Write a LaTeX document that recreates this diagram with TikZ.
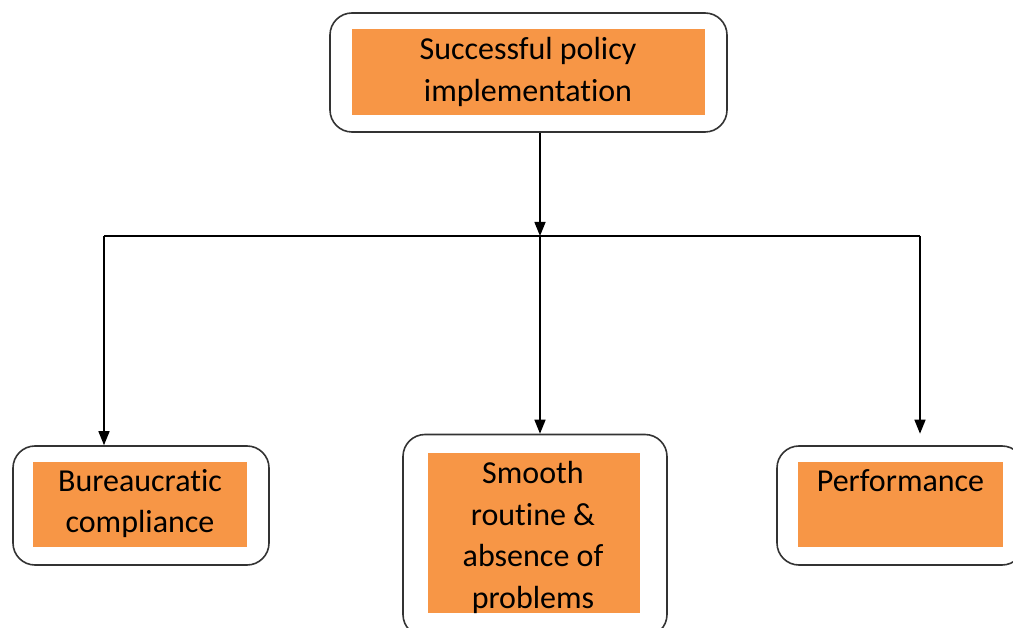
\documentclass[tikz,border=0pt]{standalone}
\usepackage{fontspec}
\setmainfont{Carlito}[Ligatures=NoCommon]
\usetikzlibrary{arrows.meta}
\definecolor{boxorange}{HTML}{F79646}

\begin{document}
\begin{tikzpicture}[x=1pt,y=-1pt,
						outer box/.style={
						draw=black!80,line width=1.6pt,rounded corners=22pt,inner sep=0pt},
						inner box/.style={fill=boxorange,inner sep=0pt},
						box text/.style={anchor=base,align=flush center,inner sep=0pt,
						font=\fontsize{32}{42}\selectfont},
						arr/.style={line width=1.5pt,-{Triangle[length=14pt,width=11pt]}}]

		\useasboundingbox (0,0) rectangle (1013,628);

		% boxes
		\node [outer box,minimum width=397pt,minimum height=119pt] (top) at (528.5,72.5) {};
		\node [inner box,minimum width=353pt,minimum height=86pt] (topin) at (528.5,72) {};
		\node [box text,text width=353pt] (toptext) at (528,59.5) {Successful policy\\implementation};

		\node [outer box,minimum width=256pt,minimum height=119pt] (bur) at (141,505.5) {};
		\node [inner box,minimum width=214pt,minimum height=85pt] (burin) at (140,504.5) {};
		\node [box text,text width=214pt] (burtext) at (140,491) {Bureaucratic\\compliance};

		\node [outer box,minimum width=264pt,minimum height=202pt] (smooth) at (535,535.5) {};
		\node [inner box,minimum width=212pt,minimum height=160pt] (smoothin) at (534,533) {};
		\begin{scope}
			\clip (smoothin.north west) rectangle (smoothin.south east);
			\node [box text,text width=212pt] (smoothtext) at (533,483) {Smooth\\routine \&\\absence of\\problems};
		\end{scope}

		\node [outer box,minimum width=247pt,minimum height=119pt] (perf) at (900.5,505.5) {};
		\node [inner box,minimum width=205pt,minimum height=85pt] (perfin) at (900.5,504.5) {};
		\node [box text,text width=205pt] (perftext) at (900.5,491) {Performance};

		% connectors
		\coordinate (hub) at (540,236);
		\coordinate (hubL) at (104,236);
		\coordinate (hubR) at (920,236);

		\draw [arr] (top.south -| hub) -- (hub);
		\draw [line width=1.5pt] (hubL) -- (hubR);
		\draw [arr] (hubL) -- (hubL |- bur.north);
		\draw [arr] (hub) -- (hub |- smooth.north);
		\draw [arr] (hubR) -- (hubR |- smooth.north);

	\end{tikzpicture}
\end{document}
